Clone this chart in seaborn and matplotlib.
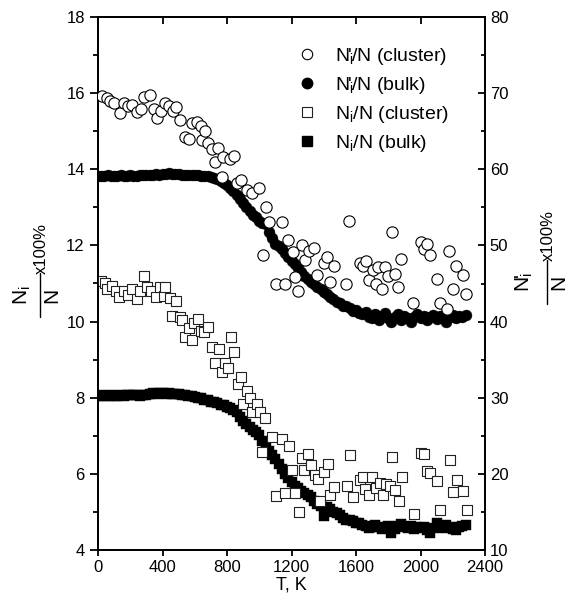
import numpy as np
import pandas as pd
import seaborn as sns
import matplotlib.pyplot as plt
from matplotlib.ticker import MultipleLocator
from matplotlib.lines import Line2D

# N'_i/N, cluster (right axis, x100%)
T_oc = [23, 54, 74, 101, 136, 163, 188, 213, 240, 266, 287, 322, 349, 364, 391, 415, 440, 467, 484, 508,
        540, 566, 581, 612, 639, 643, 664, 684, 705, 726, 746, 766, 778, 819, 845, 864, 885, 922, 953, 998,
        1021, 1042, 1063, 1104, 1139, 1160, 1180, 1207, 1222, 1242, 1263, 1284, 1311, 1340, 1360, 1403, 1418,
        1439, 1464, 1538, 1558, 1625, 1645, 1662, 1683, 1703, 1724, 1738, 1759, 1780, 1800, 1821, 1842, 1862,
        1879, 1955, 2001, 2022, 2042, 2059, 2100, 2121, 2162, 2179, 2199, 2220, 2262, 2282]
V_oc = [69.65, 69.35, 69.0, 68.75, 67.4, 68.75, 68.35, 68.45, 67.55, 67.9, 69.5, 69.75, 67.9, 66.75, 67.65,
        68.65, 68.25, 67.65, 68.2, 66.45, 64.3, 64.0, 66.05, 66.15, 65.65, 63.85, 65.0, 63.45, 62.65, 61.0,
        62.75, 58.95, 61.6, 61.35, 61.8, 58.25, 58.6, 57.25, 56.85, 57.5, 48.75, 55.1, 53.1, 44.95, 53.1,
        44.95, 50.65, 49.2, 45.8, 43.95, 50.1, 48.1, 49.3, 49.65, 46.1, 47.65, 48.45, 45.15, 47.3, 44.95,
        53.25, 47.65, 47.3, 47.9, 45.4, 46.8, 44.95, 47.15, 44.25, 47.15, 46.0, 51.75, 46.25, 44.6, 48.2,
        42.5, 50.5, 49.5, 50.2, 48.75, 45.65, 42.5, 41.6, 49.3, 44.25, 47.3, 46.1, 43.6]

# N'_i/N, bulk (right axis), every 20 K from 0 to 2280
T_bulk = list(range(0, 2300, 20))
V_fc = [59.1, 59.15, 59.1, 59.2, 59.1, 59.15, 59.1, 59.2, 59.15, 59.1, 59.2, 59.15, 59.1, 59.2, 59.25,
        59.2, 59.3, 59.25, 59.35, 59.3, 59.4, 59.35, 59.45, 59.4, 59.35, 59.4, 59.3, 59.25, 59.3, 59.2,
        59.25, 59.2, 59.15, 59.1, 59.15, 59.05, 58.9, 58.75, 58.5, 58.25, 57.9, 57.5, 57.1, 56.65, 56.1,
        55.6, 55.0, 54.5, 54.0, 53.75, 53.25, 53.0, 52.75, 51.75, 51.0, 50.25, 49.9, 49.5, 49.0, 48.5,
        48.0, 47.5, 47.0, 46.5, 46.0, 45.6, 45.25, 44.9, 44.5, 44.25, 43.9, 43.6, 43.25, 43.0, 42.6,
        42.4, 42.1, 42.0, 41.75, 41.4, 41.5, 41.1, 41.0, 41.25, 40.6, 40.5, 41.0, 40.25, 40.75, 41.1,
        40.5, 40.0, 40.6, 41.0, 40.25, 40.75, 40.5, 39.9, 40.6, 41.0, 40.5, 40.75, 40.25, 40.6, 40.9,
        40.4, 40.75, 40.5, 40.0, 40.6, 40.9, 40.5, 40.75, 40.6, 40.9]

# N_i/N, cluster (left axis, x100%)
T_os = [17, 42, 58, 89, 110, 131, 162, 183, 208, 241, 262, 285, 306, 331, 362, 383, 410, 418, 446, 460,
        481, 508, 522, 540, 564, 586, 597, 622, 640, 660, 685, 706, 725, 751, 766, 787, 807, 824, 845, 870,
        884, 901, 922, 942, 957, 984, 1003, 1020, 1038, 1078, 1106, 1141, 1162, 1182, 1203, 1224, 1245,
        1266, 1280, 1300, 1322, 1348, 1362, 1379, 1404, 1424, 1437, 1462, 1545, 1560, 1581, 1622, 1643,
        1656, 1683, 1698, 1725, 1746, 1767, 1788, 1808, 1823, 1843, 1864, 1885, 1962, 2003, 2024, 2040,
        2061, 2103, 2124, 2182, 2203, 2224, 2265, 2286]
V_os = [11.07, 11.02, 10.85, 10.93, 10.81, 10.65, 10.79, 10.70, 10.85, 10.59, 10.79, 11.20, 10.92, 10.81,
        10.65, 10.90, 10.67, 10.90, 10.61, 10.15, 10.53, 10.12, 10.04, 9.60, 9.82, 9.52, 9.96, 10.06, 9.74,
        9.72, 9.87, 9.32, 8.90, 9.28, 8.68, 8.92, 8.77, 9.59, 9.21, 8.36, 8.55, 7.83, 8.18, 7.98, 7.63, 7.83,
        7.63, 6.58, 7.46, 6.98, 5.42, 6.91, 5.51, 6.73, 6.10, 5.49, 5.01, 6.41, 6.10, 6.52, 6.23, 5.97, 5.86,
        5.30, 6.06, 6.26, 5.45, 5.65, 5.68, 6.50, 5.40, 5.84, 5.91, 5.59, 5.45, 5.93, 5.62, 5.77, 5.45, 5.74,
        5.68, 6.44, 5.57, 5.28, 5.93, 4.95, 6.56, 6.52, 6.08, 6.02, 5.80, 5.05, 6.36, 5.52, 5.84, 5.56, 5.05]

# N_i/N, bulk (left axis)
V_fs = [8.05, 8.06, 8.04, 8.05, 8.07, 8.05, 8.04, 8.06, 8.05, 8.07, 8.08, 8.06, 8.07, 8.05, 8.08,
        8.08, 8.10, 8.12, 8.11, 8.13, 8.12, 8.10, 8.13, 8.11, 8.10, 8.09, 8.08, 8.07, 8.05, 8.04, 8.02,
        8.00, 7.98, 7.95, 7.93, 7.90, 7.88, 7.85, 7.82, 7.80, 7.76, 7.72, 7.68, 7.62,
        7.50, 7.40, 7.32, 7.22, 7.15, 7.10, 7.02, 6.85, 6.72, 6.60, 6.50, 6.38, 6.25, 6.12, 6.00, 5.88,
        5.78, 5.68, 5.62, 5.56, 5.50, 5.45, 5.40, 5.30, 5.20, 5.15, 4.90, 5.12, 5.08, 5.00, 4.96, 4.92,
        4.85, 4.80, 4.78, 4.75, 4.72, 4.70, 4.66, 4.62, 4.58, 4.60, 4.66, 4.60, 4.55, 4.58, 4.62, 4.45,
        4.55, 4.62, 4.68, 4.60, 4.58, 4.62, 4.55, 4.60, 4.57, 4.60, 4.52, 4.44, 4.58, 4.70, 4.62, 4.58,
        4.65, 4.60, 4.55, 4.52, 4.60, 4.62, 4.65]

sns.set_style('ticks')
plt.rcParams['font.family'] = ['Liberation Sans', 'DejaVu Sans']
plt.rcParams['mathtext.fontset'] = 'custom'
plt.rcParams['mathtext.rm'] = 'Liberation Sans'
plt.rcParams['mathtext.it'] = 'Liberation Sans'
plt.rcParams['mathtext.bf'] = 'Liberation Sans:bold'
for k in ['text.color', 'axes.labelcolor', 'xtick.color', 'ytick.color', 'axes.edgecolor']:
    plt.rcParams[k] = 'black'

W, H = 567, 608
fig = plt.figure(figsize=(W / 100, H / 100), dpi=100)
ax = fig.add_axes([98 / W, 1 - 550 / H, 387 / W, 533 / H])
ax2 = ax.twinx()

# left axis: N_i/N
sns.scatterplot(x=T_bulk, y=V_fs, ax=ax, marker='s', s=48, color='black', edgecolor='black',
                linewidth=0.3, zorder=2, legend=False)
sns.scatterplot(x=T_os, y=V_os, ax=ax, marker='s', s=50, facecolor='white', edgecolor='#222222',
                linewidth=0.8, zorder=3, legend=False)

# right axis: N'_i/N
sns.scatterplot(x=T_bulk, y=V_fc, ax=ax2, marker='o', s=62, color='black', edgecolor='black',
                linewidth=0.3, zorder=2, legend=False)
sns.scatterplot(x=T_oc, y=V_oc, ax=ax2, marker='o', s=66, facecolor='white', edgecolor='black',
                linewidth=0.8, zorder=3, legend=False)

ax.set_xlim(0, 2400)
ax.set_ylim(4, 18)
ax2.set_ylim(10, 80)
ax.xaxis.set_major_locator(MultipleLocator(400))
ax.yaxis.set_major_locator(MultipleLocator(2))
ax.yaxis.set_minor_locator(MultipleLocator(1))
ax2.yaxis.set_major_locator(MultipleLocator(10))
ax2.yaxis.set_minor_locator(MultipleLocator(5))

for a in (ax, ax2):
    for sp in a.spines.values():
        sp.set_visible(True)
        sp.set_linewidth(1.3)

ax.tick_params(axis='x', which='major', direction='out', length=4.5, width=1.3, labelsize=12, pad=3)
ax.tick_params(axis='y', which='major', direction='out', length=6, width=1.3, labelsize=12)
ax.tick_params(axis='y', which='minor', direction='out', length=3.5, width=1.3)
ax2.tick_params(axis='y', which='major', direction='in', length=5, width=1.3, labelsize=12)
ax2.tick_params(axis='y', which='minor', direction='in', length=3, width=1.3)

top = ax.secondary_xaxis('top')
top.set_xticks(ax.get_xticks())
top.tick_params(direction='in', length=5, width=1.3, labeltop=False)
top.spines['top'].set_linewidth(1.3)

ax.set_xlabel('T, K', fontsize=13, labelpad=1)
ax.set_ylabel('')
ax2.set_ylabel('')


def frac_label(num, xn, xd, xb, yc, xp, yp):
    # vertical fraction label: numerator, bar, denominator, then "x100%"
    fig.text(xn / W, 1 - yc / H, num, rotation=90, ha='center', va='center', fontsize=15)
    fig.text(xd / W, 1 - yc / H, 'N', rotation=90, ha='center', va='center', fontsize=15)
    fig.add_artist(Line2D([xb / W, xb / W], [1 - (yc - 22) / H, 1 - (yc + 22) / H],
                          color='black', lw=1.0))
    fig.text(xp / W, 1 - yp / H, 'x100%', rotation=90, ha='center', va='center', fontsize=12)


frac_label(r'N$_\mathregular{i}$', 22, 52, 40, 295, 41, 249)
frac_label(r"N$_\mathregular{i}\!\!$'", 524, 559, 547, 282, 548, 236)

# legend
h_oc = Line2D([], [], ls='none', marker='o', ms=7.5, mfc='white', mec='black', mew=0.8)
h_fc = Line2D([], [], ls='none', marker='o', ms=7.5, mfc='black', mec='black')
h_os = Line2D([], [], ls='none', marker='s', ms=6.5, mfc='white', mec='#222222', mew=0.8)
h_fs = Line2D([], [], ls='none', marker='s', ms=6.5, mfc='black', mec='black')
labels = [r"N$_\mathregular{i}\!\!$'/N (cluster)", r"N$_\mathregular{i}\!\!$'/N (bulk)",
          r"N$_\mathregular{i}$/N (cluster)", r"N$_\mathregular{i}$/N (bulk)"]
ax2.legend([h_oc, h_fc, h_os, h_fs], labels, loc='upper left', bbox_to_anchor=(0.47, 0.961),
           frameon=False, fontsize=14, handletextpad=0.44, labelspacing=0.42, borderaxespad=0)

fig.savefig('out.png', dpi=100)
